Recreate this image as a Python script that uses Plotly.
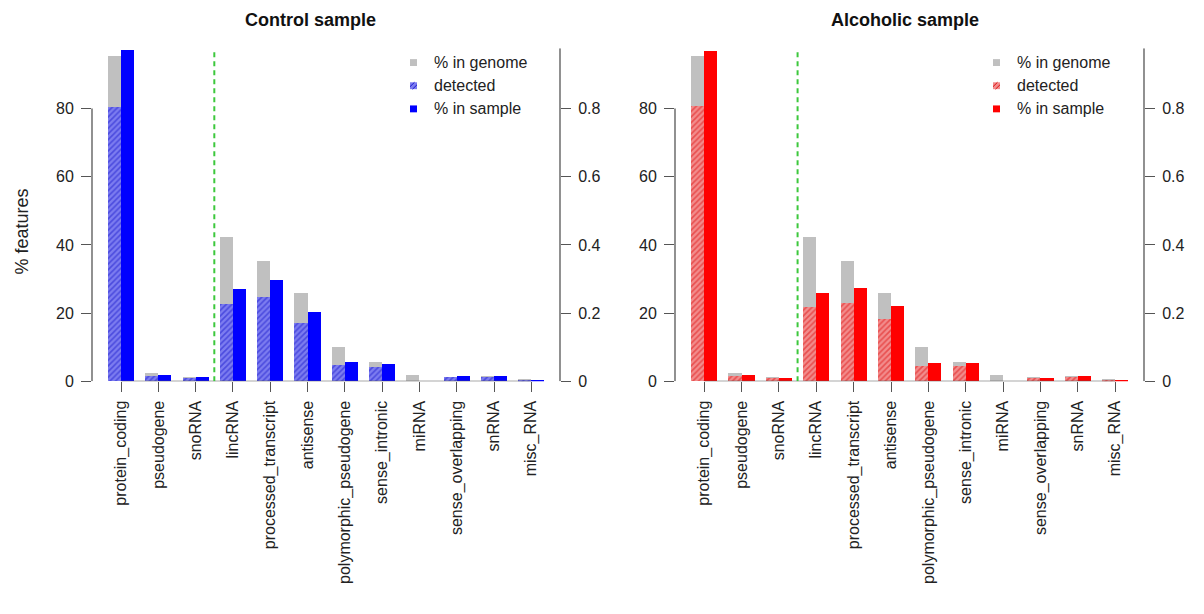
import plotly.graph_objects as go

categories = ["protein_coding", "pseudogene", "snoRNA", "lincRNA", "processed_transcript",
              "antisense", "polymorphic_pseudogene", "sense_intronic", "miRNA",
              "sense_overlapping", "snRNA", "misc_RNA"]

genome_pct = [95.5, 2.3, 1.1, 42.4, 35.3, 25.7, 10.1, 5.7, 1.8, 1.3, 1.4, 0.6]

control_detected = [80.5, 1.6, 1.0, 22.5, 24.7, 17.0, 4.6, 4.1, 0.0, 1.3, 1.3, 0.1]
control_sample = [97.1, 1.8, 1.1, 27.0, 29.7, 20.2, 5.6, 4.9, 0.0, 1.4, 1.4, 0.25]

alcoholic_detected = [80.8, 1.5, 1.0, 21.8, 22.8, 18.3, 4.4, 4.4, 0.0, 0.8, 1.1, 0.1]
alcoholic_sample = [96.9, 1.7, 1.0, 25.9, 27.3, 22.0, 5.4, 5.4, 0.0, 0.8, 1.4, 0.25]

left_ticks = [0, 20, 40, 60, 80]
right_ticks = [0, 0.2, 0.4, 0.6, 0.8]
right_tick_text = ["0", "0.2", "0.4", "0.6", "0.8"]
titles = ["Control sample", "Alcoholic sample"]
legend_labels = ["% in genome", "detected", "% in sample"]

W, H = 1204, 614
FONT = "Liberation Sans, Arial, sans-serif"
AX = "#555555"
GRAY = "#c0c0c0"
YMAX = 97.7
XMIN, XMAX = -0.78, 11.77
BW = 0.35

panels = [
    dict(x0=92, x1=560, xa="x", ya="y", ya2="y2", det=control_detected, smp=control_sample,
         col="#0000ff", hbg="#7c7cf0", hfg="#1818cc", leg_x=410, title_x=310),
    dict(x0=675, x1=1144, xa="x2", ya="y3", ya2="y4", det=alcoholic_detected, smp=alcoholic_sample,
         col="#ff0000", hbg="#f28c8c", hfg="#dd1010", leg_x=993, title_x=905),
]

y_bot, y_top = 387, 49
ydom = [1 - y_bot / H, 1 - y_top / H]

fig = go.Figure()
n = len(categories)
idx = list(range(n))
shapes = []
annotations = []

for k, p in enumerate(panels):
    xl = [i - BW / 2 for i in idx]
    xr = [i + BW / 2 for i in idx]
    fig.add_trace(go.Bar(x=xl, y=genome_pct, width=[BW] * n, marker=dict(color=GRAY, line=dict(width=0)),
                         xaxis=p["xa"], yaxis=p["ya"], showlegend=False))
    fig.add_trace(go.Bar(x=xl, y=p["det"], width=[BW] * n,
                         marker=dict(color=p["hbg"], line=dict(width=0),
                                     pattern=dict(shape="/", fgcolor=p["hfg"], bgcolor=p["hbg"],
                                                  size=4, solidity=0.4)),
                         xaxis=p["xa"], yaxis=p["ya"], showlegend=False))
    fig.add_trace(go.Bar(x=xr, y=p["smp"], width=[BW] * n, marker=dict(color=p["col"], line=dict(width=0)),
                         xaxis=p["xa"], yaxis=p["ya"], showlegend=False))
    # invisible trace so the right-hand axis is drawn
    fig.add_trace(go.Scatter(x=[0], y=[0], mode="markers", marker=dict(opacity=0, size=1),
                             xaxis=p["xa"], yaxis=p["ya2"], showlegend=False, hoverinfo="skip"))

    xdom = [p["x0"] / W, p["x1"] / W]
    xname = "xaxis" if p["xa"] == "x" else "xaxis2"
    yname = "yaxis" if p["ya"] == "y" else "yaxis3"
    y2name = "yaxis2" if p["ya2"] == "y2" else "yaxis4"
    fig.update_layout(**{
        xname: dict(domain=xdom, range=[XMIN, XMAX], anchor=p["ya"], tickmode="array",
                    tickvals=idx, ticktext=categories, tickangle=-90, ticks="outside", ticklen=10,
                    tickcolor=AX, tickwidth=1.3, showline=False, zeroline=False, showgrid=False,
                    tickfont=dict(family=FONT, size=16, color="#222"), ticklabelstandoff=2),
        yname: dict(domain=ydom, range=[0, YMAX], anchor=p["xa"], tickmode="array",
                    tickvals=left_ticks, ticks="outside", ticklen=10, tickcolor=AX, tickwidth=1.3,
                    showline=False, zeroline=False, showgrid=False,
                    tickfont=dict(family=FONT, size=16, color="#222"), ticklabelstandoff=4),
        y2name: dict(overlaying=p["ya"], side="right", anchor=p["xa"], range=[0, YMAX / 100],
                     tickmode="array", tickvals=right_ticks, ticktext=right_tick_text,
                     ticks="outside", ticklen=10, tickcolor=AX, tickwidth=1.3,
                     showline=False, zeroline=False, showgrid=False,
                     tickfont=dict(family=FONT, size=16, color="#222"), ticklabelstandoff=4),
    })
    xd = p["xa"] + " domain"
    shapes.append(dict(type="line", xref=xd, yref=p["ya"], x0=0, x1=0, y0=0, y1=80,
                       line=dict(color=AX, width=1.3)))
    shapes.append(dict(type="line", xref=xd, yref=p["ya"], x0=1, x1=1, y0=0, y1=YMAX,
                       line=dict(color=AX, width=1.3)))
    shapes.append(dict(type="line", xref=p["xa"], yref=p["ya"], x0=0, x1=n - 1, y0=0, y1=0,
                       line=dict(color=AX, width=1.3)))
    shapes.append(dict(type="line", xref=p["xa"], yref=p["ya"], x0=2.5, x1=2.5, y0=0, y1=YMAX,
                       line=dict(color="#3cc83c", width=2, dash="5px,4px")))

    annotations.append(dict(text="<b>" + titles[k] + "</b>", xref="paper", yref="paper",
                            x=p["title_x"] / W, y=1 - 20 / H, xanchor="center", yanchor="middle",
                            showarrow=False, font=dict(family=FONT, size=18, color="#111")))
    lx = p["leg_x"]
    for j, (lab, yc) in enumerate(zip(legend_labels, [63.5, 87, 110.5])):
        s = 3.5
        fill = [GRAY, p["hbg"], p["col"]][j]
        shapes.append(dict(type="rect", xref="paper", yref="paper",
                           x0=lx / W, x1=(lx + 2 * s) / W, y0=1 - (yc + s) / H, y1=1 - (yc - s) / H,
                           fillcolor=fill, line=dict(width=0)))
        if j == 1:
            for off in (-2.5, 2.5):
                shapes.append(dict(type="line", xref="paper", yref="paper",
                                   x0=(lx + max(0, off)) / W, y0=1 - (yc + s - max(0, -off)) / H,
                                   x1=(lx + 2 * s - max(0, -off)) / W, y1=1 - (yc - s + max(0, off)) / H,
                                   line=dict(color=p["hfg"], width=1)))
        annotations.append(dict(text=lab, xref="paper", yref="paper", x=(lx + 22) / W, y=1 - yc / H,
                                xanchor="left", yanchor="middle", showarrow=False,
                                font=dict(family=FONT, size=16, color="#222")))

annotations.append(dict(text="% features", xref="paper", yref="paper", x=22 / W, y=1 - 235 / H,
                        xanchor="center", yanchor="middle", textangle=-90, showarrow=False,
                        font=dict(family=FONT, size=18, color="#222")))

fig.update_layout(width=W, height=H, autosize=False, barmode="overlay", bargap=0,
                  margin=dict(l=0, r=0, t=0, b=0), paper_bgcolor="white", plot_bgcolor="white",
                  showlegend=False, shapes=shapes, annotations=annotations,
                  font=dict(family=FONT))

fig.write_html("out.html", config={"displayModeBar": False},
               post_script="document.body.style.margin='0';document.body.style.overflow='hidden';")
